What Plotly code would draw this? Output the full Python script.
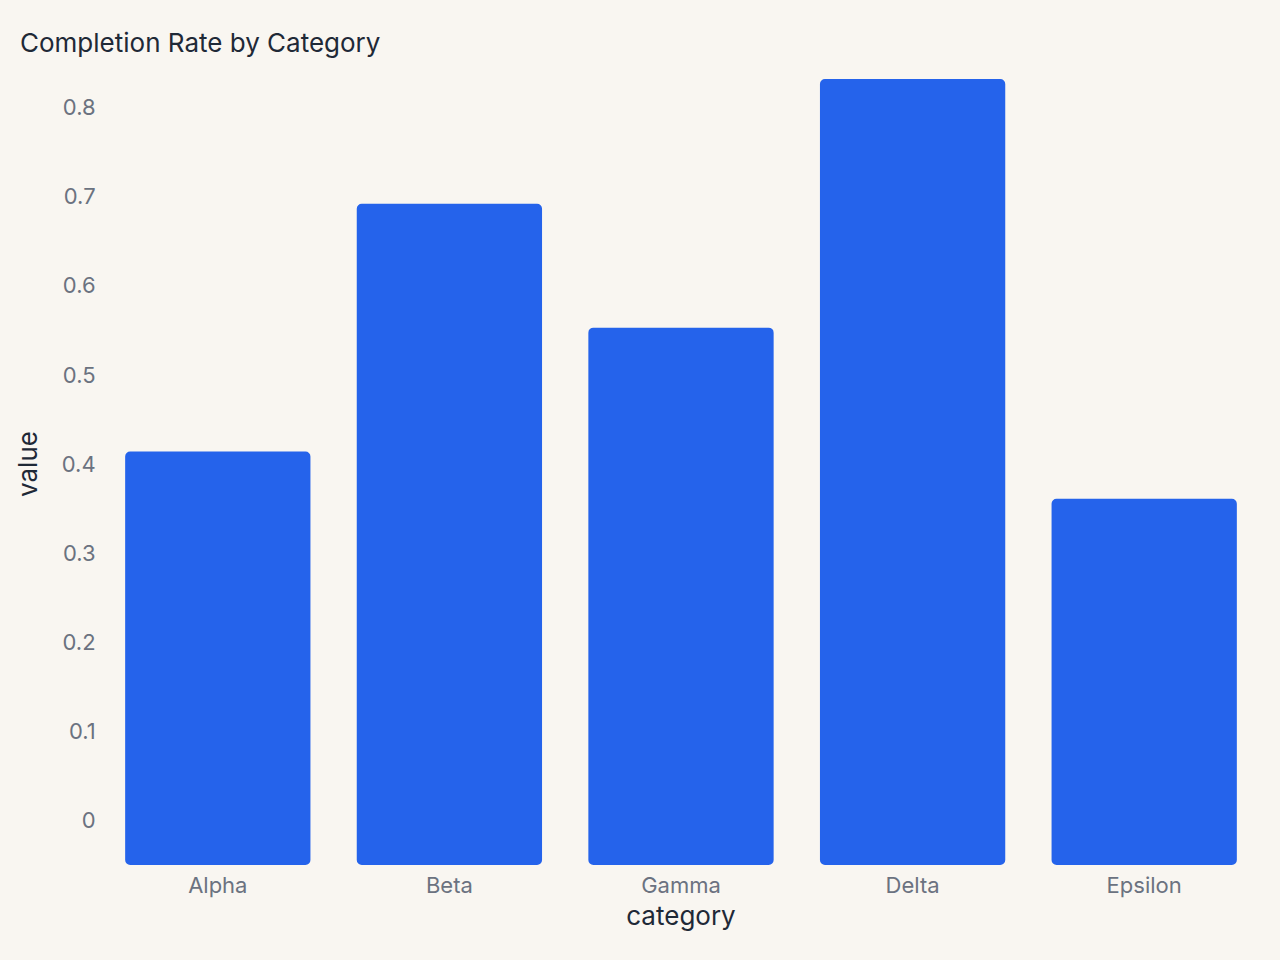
import plotly.graph_objects as go

categories = ["Alpha", "Beta", "Gamma", "Delta", "Epsilon"]
values = [0.414, 0.692, 0.553, 0.832, 0.361]
tick_vals = [0, 0.1, 0.2, 0.3, 0.4, 0.5, 0.6, 0.7, 0.8]

Y_MIN = -0.05
Y_MAX = 0.85
BAR_COLOR = "#2563EB"
BG = "#F9F6F1"
FONT = "Inter, Roboto, sans-serif"

fig = go.Figure()
fig.add_trace(go.Bar(
    x=categories, y=[v - Y_MIN for v in values],
    base=[Y_MIN] * len(values),
    marker=dict(color=BAR_COLOR, cornerradius=5, line=dict(width=0)),
    customdata=values, hovertemplate="%{x}: %{customdata}<extra></extra>",
    showlegend=False,
))

fig.update_layout(
    width=1280, height=960,
    paper_bgcolor=BG, plot_bgcolor=BG,
    bargap=0.2,
    margin=dict(l=102, r=20, t=63, b=95),
    font=dict(family=FONT),
    title=dict(text="Completion Rate by Category", x=20/1280, xref="container", xanchor="left",
               y=1-43/960, yref="container", yanchor="middle",
               font=dict(size=26, color="#1F2937", family=FONT)),
    xaxis=dict(showgrid=False, zeroline=False, showline=False,
               ticks="outside", ticklen=1, tickcolor="rgba(0,0,0,0)",
               tickfont=dict(size=22, color="#6B7280"),
               title=dict(text="category", font=dict(size=26, color="#1F2937"), standoff=9)),
    yaxis=dict(range=[Y_MIN, Y_MAX], showgrid=False, zeroline=False, showline=False,
               tickvals=tick_vals, ticktext=[("%g" % t) for t in tick_vals],
               ticks="outside", ticklen=1, tickcolor="rgba(0,0,0,0)",
               tickfont=dict(size=22, color="#6B7280"),
               title=dict(text="value", font=dict(size=26, color="#1F2937"), standoff=16)),
)

fig.write_html("out.html")
